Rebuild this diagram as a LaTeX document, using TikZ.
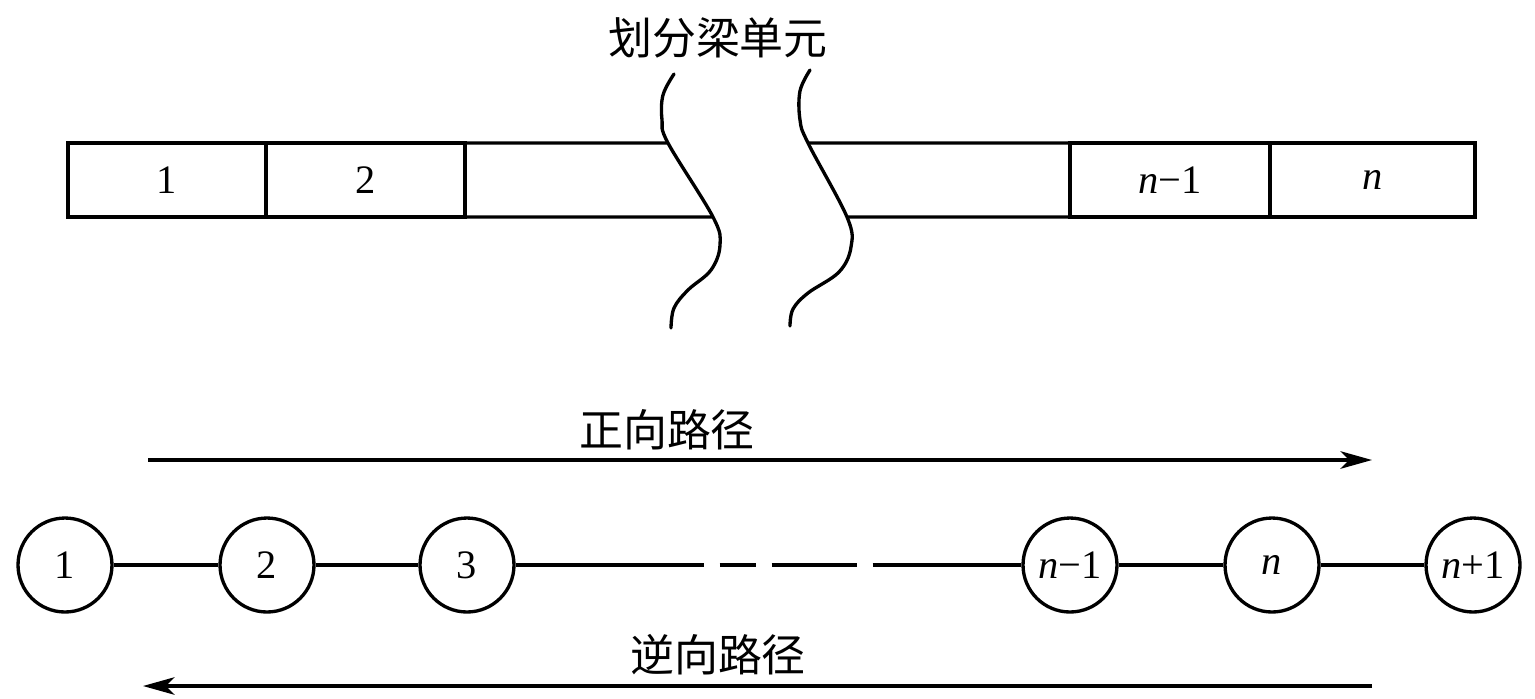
\documentclass[tikz,border=0pt]{standalone}
\usepackage{fontspec}
\setmainfont{Liberation Serif}
\newfontfamily\cjk{Noto Sans CJK SC}
\usetikzlibrary{arrows.meta}

\tikzset{
  cell/.style={draw, rectangle, minimum height=1.48cm, inner sep=0pt, outer sep=0pt, font=\fontsize{23}{28}\selectfont},
  jd/.style={draw, circle, minimum size=1.88cm, inner sep=0pt, font=\fontsize{23}{28}\selectfont},
  biaoti/.style={font=\cjk\fontsize{25}{30}\selectfont},
  lujing/.style={-{Stealth[length=18pt,width=10pt,inset=5pt]}},
}

\begin{document}
\begin{tikzpicture}[x=0.02cm, y=-0.02cm, line width=1.9pt]
    \useasboundingbox (0,0) rectangle (1535,698);
    % 梁
    \node[biaoti] (t) at (718,38) {划分梁单元};
    \node[cell, minimum width=3.96cm] (c1) at (167,180) {1};
    \node[cell, minimum width=3.98cm] (c2) at (365.5,180) {2};
    \node[cell, minimum width=4cm] (cn1) at (1170,180) {\textit{n}−1};
    \node[cell, minimum width=4.1cm] (cn) at (1372.5,180) {\textit{n}};
    \coordinate (a1) at (668,143);
    \coordinate (a2) at (713,217);
    \coordinate (b1) at (808,143);
    \coordinate (b2) at (847,217);
    \draw (c2.north east) -- (a1) (c2.south east) -- (a2);
    \draw (b1) -- (cn1.north west) (b2) -- (cn1.south west);
    % 断开线
    \draw[line cap=round] plot[smooth, tension=0.6] coordinates {(674,74) (663,95) (662,120) (668,143) (713,217) (720,245) (711,270) (688,290) (674,308) (671,328)};
    \draw[line cap=round] plot[smooth, tension=0.6] coordinates {(810,70) (800,91) (800,120) (808,143) (847,217) (851,247) (839,272) (808,293) (793,309) (790,326)};
    % 节点
    \node[jd] (k1) at (65,565) {1};
    \node[jd] (k2) at (267,565) {2};
    \node[jd] (k3) at (467,565) {3};
    \node[jd] (kn1) at (1070,565) {\textit{n}−1};
    \node[jd] (kn) at (1272,565) {\textit{n}};
    \node[jd] (kn2) at (1473,565) {\textit{n}+1};
    \draw (k1) -- (k2) (k2) -- (k3) (kn1) -- (kn) (kn) -- (kn2);
    \draw[dash pattern=on 3.76cm off 0.32cm on 0.72cm off 0.32cm on 1.7cm off 0.32cm on 3.04cm] (k3) -- (kn1);
    % 路径
    \coordinate (zs) at (148,460);
    \coordinate (ze) at (1372,460);
    \draw[lujing] (zs) -- (ze);
    \node[biaoti] (zx) at (667,430) {正向路径};
    \coordinate (ns) at (1372,686);
    \coordinate (ne) at (143,686);
    \draw[lujing] (ns) -- (ne);
    \node[biaoti] (nx) at (718,655) {逆向路径};
\end{tikzpicture}
\end{document}
